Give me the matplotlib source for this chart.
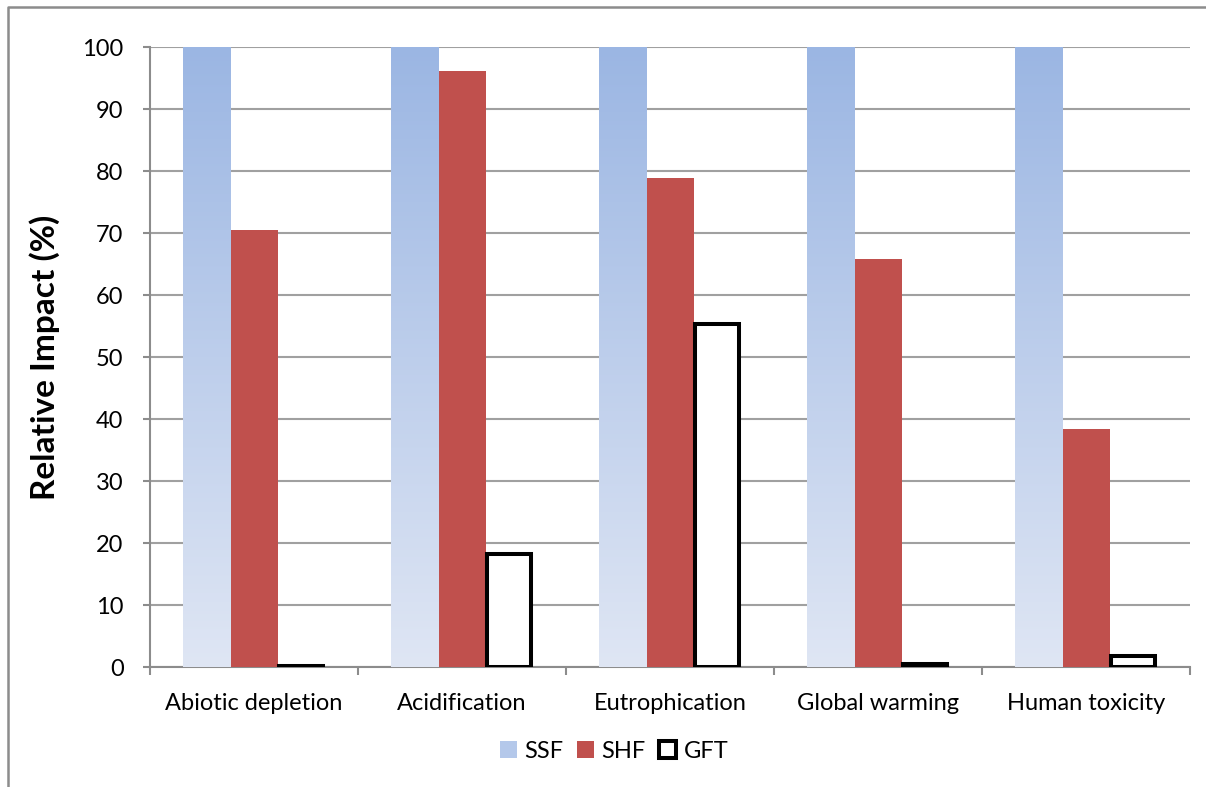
import numpy as np
import matplotlib
matplotlib.use("Agg")
import matplotlib.pyplot as plt
from matplotlib.lines import Line2D
from matplotlib.patches import Patch
from matplotlib.colors import LinearSegmentedColormap

plt.rcParams['font.family'] = ['Lato', 'DejaVu Sans']

categories = ["Abiotic depletion", "Acidification", "Eutrophication", "Global warming", "Human toxicity"]
ssf = [100, 100, 100, 100, 100]
shf = [70.5, 96.1, 78.9, 65.8, 38.4]
gft = [0.2, 18.3, 55.3, 0.5, 1.8]

fig = plt.figure(figsize=(12.06, 7.87), dpi=100)
ax = fig.add_axes([150/1206, 1-667/787, 1040/1206, 620/787])

x = np.arange(len(categories))
w = 0.227

bars_ssf = ax.bar(x - w, ssf, w, color='none', edgecolor='none', zorder=3)
ax.bar(x, shf, w, color='#C0504D', edgecolor='none', zorder=3)
ax.bar(x + w, gft, w * 0.92, color='white', edgecolor='black', linewidth=2.9, zorder=3)

# vertical blue gradient fill for SSF bars
cmap = LinearSegmentedColormap.from_list('ssf', ['#DFE6F4', '#9BB6E3'])
grad = np.linspace(0, 1, 256).reshape(-1, 1)
for r in bars_ssf:
    x0, y0 = r.get_x(), r.get_y()
    im = ax.imshow(grad, cmap=cmap, origin='lower', aspect='auto',
                   extent=(x0, x0 + r.get_width(), y0, y0 + r.get_height()), zorder=3)
    im.set_clip_path(r)

ax.set_xlim(-0.5, len(categories) - 0.5)
ax.set_ylim(0, 100)
ax.set_yticks(range(0, 101, 10))
ax.grid(axis='y', color='#A0A0A0', linewidth=1.5, zorder=0)
ax.set_axisbelow(True)

for s in ['top', 'right']:
    ax.spines[s].set_visible(False)
for s in ['left', 'bottom']:
    ax.spines[s].set_color('#8C8C8C')
    ax.spines[s].set_linewidth(1.5)

ax.set_xticks(x)
ax.set_xticklabels(categories, fontsize=17)
ax.tick_params(axis='x', length=0, pad=19)
ax.set_xticks(np.arange(len(categories) + 1) - 0.5, minor=True)
ax.tick_params(axis='x', which='minor', length=6, width=1.5, color='#8C8C8C')
ax.tick_params(axis='y', length=5, width=1.5, color='#8C8C8C', labelsize=17, pad=14)

ax.set_ylabel('Relative Impact (%)', fontsize=24, fontweight='bold', labelpad=16)

handles = [Patch(facecolor='#B4C8EA', edgecolor='none'),
           Patch(facecolor='#C0504D', edgecolor='none'),
           Patch(facecolor='white', edgecolor='black', linewidth=2.9)]
fig.legend(handles, ['SSF', 'SHF', 'GFT'], loc='center', bbox_to_anchor=(614/1206, 1-751/787),
           ncol=3, frameon=False, fontsize=17, handlelength=0.75, handleheight=0.75,
           handletextpad=0.3, columnspacing=0.55)

# outer chart border
fig.add_artist(Line2D([8/1206, 8/1206, 1.0], [0.0, 1-7/787, 1-7/787],
                      transform=fig.transFigure, color='#8C8C8C', linewidth=1.8))

fig.savefig('out.png', dpi=100)
